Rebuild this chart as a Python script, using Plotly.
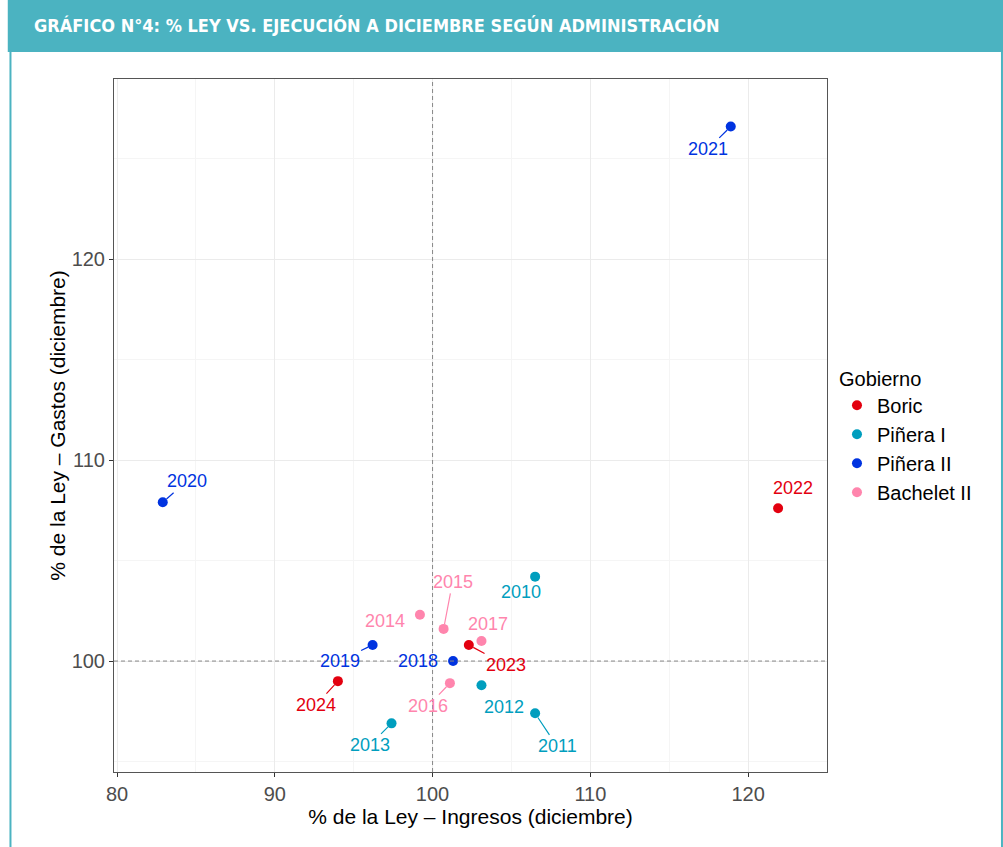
import plotly.graph_objects as go

# Datos: % de la Ley a diciembre, por año
anios = [2010, 2011, 2012, 2013, 2014, 2015, 2016, 2017,
         2018, 2019, 2020, 2021, 2022, 2023, 2024]
ingresos = [106.5, 106.5, 103.1, 97.4, 99.2, 100.7, 101.1, 103.1,
            101.3, 96.2, 82.9, 118.9, 121.9, 102.3, 94.0]
gastos = [104.2, 97.4, 98.8, 96.9, 102.3, 101.6, 98.9, 101.0,
          100.0, 100.8, 107.9, 126.6, 107.6, 100.8, 99.0]
gobierno = ['Piñera I', 'Piñera I', 'Piñera I', 'Piñera I', 'Bachelet II',
            'Bachelet II', 'Bachelet II', 'Bachelet II', 'Piñera II', 'Piñera II',
            'Piñera II', 'Piñera II', 'Boric', 'Boric', 'Boric']

orden = ['Boric', 'Piñera I', 'Piñera II', 'Bachelet II']
colores = {'Boric': '#E3000F', 'Piñera I': '#009EBE',
           'Piñera II': '#0033E0', 'Bachelet II': '#FF85AD'}

# desplazamiento de etiquetas (px) y si llevan línea guía
etiquetas = {
    2010: (-14, 15, False), 2011: (22, 33, True), 2012: (23, 22, False),
    2013: (-22, 22, True), 2014: (-35, 6, False), 2015: (9, -47, True),
    2016: (-22, 23, True), 2017: (7, -17, False), 2018: (-35, 0, False),
    2019: (-33, 16, True), 2020: (24, -21, True), 2021: (-23, 23, True),
    2022: (15, -20, False), 2023: (37, 20, True), 2024: (-22, 24, True),
}

fuente = 'Liberation Sans, Arial, sans-serif'

fig = go.Figure()
for g in orden:
    idx = [i for i, v in enumerate(gobierno) if v == g]
    fig.add_trace(go.Scatter(
        x=[ingresos[i] for i in idx], y=[gastos[i] for i in idx],
        mode='markers', name=g,
        marker=dict(color=colores[g], size=10),
    ))

for i, a in enumerate(anios):
    dx, dy, linea = etiquetas[a]
    c = colores[gobierno[i]]
    fig.add_annotation(
        x=ingresos[i], y=gastos[i], text=str(a), showarrow=True,
        ax=dx, ay=dy, arrowhead=0, arrowwidth=1.2, standoff=5,
        arrowcolor=c if linea else 'rgba(0,0,0,0)',
        font=dict(color=c, size=18, family=fuente),
    )

# líneas de referencia en 100
fig.add_vline(x=100, line=dict(color='#888888', width=1, dash='4px,3px'))
fig.add_hline(y=100, line=dict(color='#888888', width=1, dash='4px,3px'))

# encabezado y marco
fig.add_shape(type='rect', xref='paper', yref='paper', x0=-0.149, x1=1.247,
              y0=1.039, y1=1.12, fillcolor='#4BB3C1', line_width=0, layer='below')
for xx in [-0.1452, 1.2454]:
    fig.add_shape(type='line', xref='paper', yref='paper', x0=xx, x1=xx,
                  y0=-0.11, y1=1.039, line=dict(color='#4BB3C1', width=2))
fig.add_annotation(xref='paper', yref='paper', x=-0.115, y=1.077,
                   xanchor='left', yanchor='middle', showarrow=False,
                   text='<b>GRÁFICO N°4: % LEY VS. EJECUCIÓN A DICIEMBRE SEGÚN ADMINISTRACIÓN</b>',
                   font=dict(color='white', size=18, family='DejaVu Sans Condensed, Liberation Sans, sans-serif'))

eje = dict(showline=True, mirror=True, linecolor='#555555', linewidth=1,
           ticks='outside', ticklen=4, tickcolor='#333333', zeroline=False,
           showgrid=True, gridcolor='#EBEBEB', gridwidth=1,
           tickfont=dict(size=20, color='#4D4D4D', family=fuente),
           title_font=dict(size=21, color='black', family=fuente))

fig.update_xaxes(eje, range=[79.81, 125.0], tick0=80, dtick=10,
                 minor=dict(dtick=5, tick0=80, showgrid=True, gridcolor='#F5F5F5', ticks=''),
                 title_text='% de la Ley – Ingresos (diciembre)', title_standoff=0)
fig.update_yaxes(eje, range=[94.48, 128.96], tick0=100, dtick=10,
                 minor=dict(dtick=5, tick0=100, showgrid=True, gridcolor='#F5F5F5', ticks=''),
                 title_text='% de la Ley – Gastos (diciembre)', title_standoff=0)

fig.update_layout(
    width=1003, height=847,
    margin=dict(l=114, r=176, t=79, b=75),
    paper_bgcolor='white', plot_bgcolor='white',
    font=dict(family=fuente),
    legend=dict(title=dict(text='Gobierno', font=dict(size=20, color='black')),
                font=dict(size=20, color='black'), x=1.014, y=0.595,
                xanchor='left', yanchor='top'),
    showlegend=True,
)

fig.write_html('out.html', config={'displayModeBar': False},
               post_script="document.body.style.margin='0';")
